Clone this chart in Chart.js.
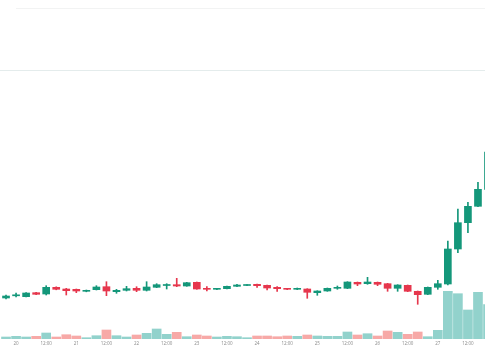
<!DOCTYPE html>
<html>
<head>
<meta charset="utf-8">
<script src="https://cdn.jsdelivr.net/npm/chart.js@4.4.0/dist/chart.umd.min.js"></script>
<style>
    html, body { margin: 0; padding: 0; background: #fff; }
    #wrap { position: relative; width: 485px; height: 360px; }
    .rule { position: absolute; right: 0; height: 1px; }
    #ruleTop { top: 8px; left: 16px; background: #f2f3f3; }
    #ruleMid { top: 70px; left: 0; background: #e4ecec; }
    #chart { position: absolute; left: 0; top: 0; width: 485px; height: 360px; }
</style>
</head>
<body>
<div id="wrap">
    <div class="rule" id="ruleTop"></div>
    <div class="rule" id="ruleMid"></div>
    <canvas id="chart" width="485" height="360"></canvas>
</div>
<script>
'use strict';

// 4h candles, day + time
const times = [
    '19 20:00',
    '20 00:00', '20 04:00', '20 08:00', '20 12:00', '20 16:00', '20 20:00',
    '21 00:00', '21 04:00', '21 08:00', '21 12:00', '21 16:00', '21 20:00',
    '22 00:00', '22 04:00', '22 08:00', '22 12:00', '22 16:00', '22 20:00',
    '23 00:00', '23 04:00', '23 08:00', '23 12:00', '23 16:00', '23 20:00',
    '24 00:00', '24 04:00', '24 08:00', '24 12:00', '24 16:00', '24 20:00',
    '25 00:00', '25 04:00', '25 08:00', '25 12:00', '25 16:00', '25 20:00',
    '26 00:00', '26 04:00', '26 08:00', '26 12:00', '26 16:00', '26 20:00',
    '27 00:00', '27 04:00', '27 08:00', '27 12:00', '27 16:00', '27 20:00'
];

const openPrices = [
    10.20, 10.42, 10.33, 10.73, 10.60, 11.27, 11.10, 11.07, 10.87, 11.03,
    11.33, 10.83, 10.97, 11.17, 10.97, 11.27, 11.45, 11.53, 11.40, 11.77,
    11.13, 11.07, 11.13, 11.37, 11.45, 11.57, 11.47, 11.27, 11.13, 11.07,
    11.10, 10.73, 10.90, 11.17, 11.17, 11.77, 11.63, 11.77, 11.63, 11.17,
    11.47, 10.87, 10.57, 11.27, 11.60, 15.10, 17.73, 19.37, 21.05
];

const highPrices = [
    10.50, 10.70, 10.75, 10.77, 11.43, 11.32, 11.17, 11.10, 11.00, 11.43,
    11.83, 11.07, 11.37, 11.33, 11.83, 11.63, 11.63, 12.17, 11.77, 11.80,
    11.33, 11.17, 11.40, 11.57, 11.55, 11.60, 11.50, 11.33, 11.17, 11.20,
    11.13, 10.93, 11.20, 11.40, 11.83, 11.80, 12.27, 11.80, 11.67, 11.53,
    11.50, 10.90, 11.30, 11.97, 15.90, 19.10, 19.77, 21.77, 25.30
];

const lowPrices = [
    10.10, 10.30, 10.30, 10.53, 10.50, 11.02, 10.50, 10.73, 10.82, 11.00,
    10.43, 10.67, 10.90, 10.83, 10.90, 11.23, 11.10, 11.33, 11.37, 11.07,
    10.90, 11.03, 11.10, 11.33, 11.43, 11.27, 11.00, 10.87, 11.03, 11.03,
    10.17, 10.47, 10.87, 11.07, 11.13, 11.43, 11.57, 11.43, 10.87, 10.87,
    10.83, 9.57, 10.53, 11.07, 11.50, 14.73, 16.73, 19.33, 21.00
];

const closePrices = [
    10.40, 10.48, 10.70, 10.57, 11.27, 11.07, 10.93, 10.90, 10.95, 11.30,
    10.90, 10.97, 11.13, 10.97, 11.30, 11.53, 11.50, 11.40, 11.73, 11.10,
    11.07, 11.13, 11.37, 11.50, 11.51, 11.43, 11.20, 11.13, 11.07, 11.15,
    10.77, 10.90, 11.17, 11.23, 11.80, 11.60, 11.80, 11.57, 11.17, 11.50,
    10.87, 10.53, 11.27, 11.63, 15.10, 17.73, 19.37, 21.07, 24.80
];

const volumes = [
    2000, 2700, 2000, 2700, 6000, 2000, 4300, 3000, 1300, 3300,
    9000, 3300, 2000, 4000, 5700, 10000, 4700, 6700, 2300, 4000,
    3000, 2000, 2700, 2300, 1300, 3000, 3000, 2300, 3000, 2700,
    4000, 3000, 2700, 2700, 7000, 4000, 5300, 3000, 8000, 6700,
    4700, 7000, 2300, 8700, 47700, 45300, 29000, 46700, 34300
];

const tickLabels = [
    '20', '12:00', '21', '12:00', '22', '12:00', '23', '12:00',
    '24', '12:00', '25', '12:00', '26', '12:00', '27', '12:00'
];

const UP = '#14977a';
const DOWN = '#e6374d';
const UP_VOLUME = 'rgba(38,166,154,.5)';
const DOWN_VOLUME = 'rgba(239,83,80,.5)';

const isUp = closePrices.map((close, i) => close >= openPrices[i]);

// ticks sit on the 00:00 and 12:00 candles
const tickIndex = [];
times.forEach((time, i) => {
    if (time.endsWith(' 00:00') || time.endsWith(' 12:00')) {
        tickIndex.push(i);
    }
});

new Chart(document.getElementById('chart'), {

    type: 'bar',

    data: {

        datasets: [

            {
                label: 'Wick',
                data: times.map((time, i) => ({ x: i, y: [lowPrices[i], highPrices[i]] })),
                backgroundColor: isUp.map(up => up ? UP : DOWN),
                barThickness: 1,
                grouped: false,
                yAxisID: 'price',
                order: 1
            },

            {
                label: 'Body',
                data: times.map((time, i) => ({ x: i, y: [openPrices[i], closePrices[i]] })),
                backgroundColor: isUp.map(up => up ? UP : DOWN),
                barThickness: 7,
                minBarLength: 1,
                grouped: false,
                yAxisID: 'price',
                order: 0
            },

            {
                label: 'Volume',
                data: times.map((time, i) => ({ x: i, y: volumes[i] })),
                backgroundColor: isUp.map(up => up ? UP_VOLUME : DOWN_VOLUME),
                barThickness: 9,
                grouped: false,
                yAxisID: 'volume',
                order: 2
            }

        ]

    },

    options: {

        responsive: false,

        animation: false,

        layout: {
            padding: 0
        },

        plugins: {
            legend: { display: false },
            tooltip: { enabled: false }
        },

        scales: {

            x: {
                type: 'linear',
                offset: false,
                min: -0.6,
                max: 47.7,
                grid: { display: false, drawTicks: false, offset: false },
                border: { display: false },
                afterBuildTicks(scale) {
                    scale.ticks = tickIndex.map(value => ({ value }));
                },
                afterFit(scale) {
                    scale.height = 21;
                },
                ticks: {
                    padding: 2.5,
                    color: '#8a8a8a',
                    autoSkip: false,
                    maxRotation: 0,
                    font: { family: 'Open Sans', size: 4.5 },
                    callback: (value, index) => tickLabels[index]
                }
            },

            price: {
                type: 'linear',
                display: false,
                min: 6.1,
                max: 40
            },

            volume: {
                type: 'linear',
                display: false,
                min: 0,
                max: 339000
            }

        }

    }

});
</script>
</body>
</html>
